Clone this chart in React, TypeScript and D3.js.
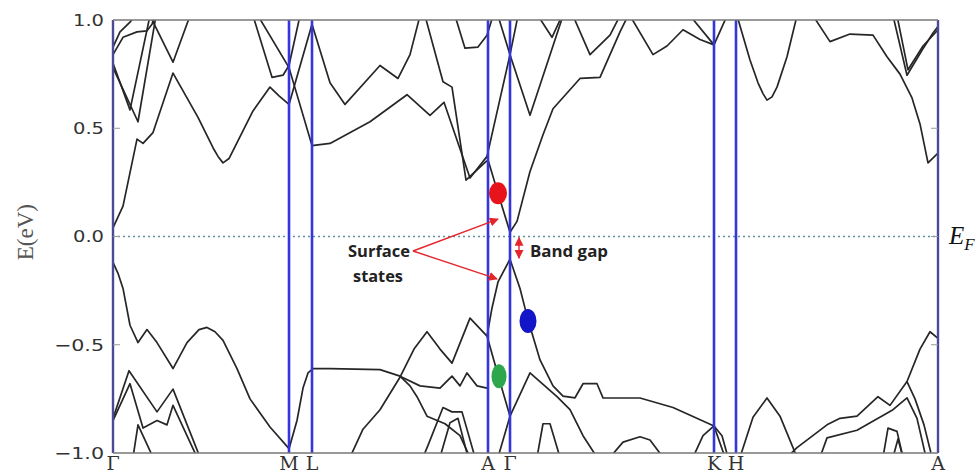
import React from 'react';
import * as d3 from 'd3';

// high-symmetry path
const kPoints = [0, 1.76, 1.99, 3.75, 3.97, 6.01, 6.23, 8.25];
const kLabels = ['Γ', 'M', 'L', 'A', 'Γ', 'K', 'H', 'A'];
const eTicks = [1.0, 0.5, 0.0, -0.5, -1.0];
const eTickLabels = ['1.0', '0.5', '0.0', '\u22120.5', '\u22121.0'];

// bands: [k, E(eV)]
const band01 = [[0,0.04],[0.04,0.08],[0.10,0.14],[0.24,0.45],[0.30,0.43],[0.40,0.48],[0.60,0.755],[0.85,0.55],[1.00,0.41],[1.05,0.37],[1.10,0.34],[1.16,0.36],[1.40,0.58],[1.57,0.69],[1.66,0.65],[1.76,0.61],[1.99,0.98],[2.17,0.71],[2.32,0.61],[2.67,0.79],[2.85,0.73],[2.97,0.84],[3.07,1.02]];
const band02 = [[1.45,1.02],[1.76,0.78],[1.99,0.42],[2.17,0.43],[2.57,0.53],[2.94,0.655],[3.17,0.56],[3.31,0.62],[3.57,0.27],[3.74,0.37],[3.85,0.20],[3.97,0.02],[4.04,0.07],[4.17,0.30],[4.30,0.47],[4.40,0.59],[4.67,0.73],[4.87,0.735],[5.07,0.945],[5.15,1.02]];
const band03 = [[1.40,1.02],[1.59,0.735],[1.70,0.745],[1.76,0.79],[1.87,1.02]];
const band04 = [[3.12,1.02],[3.30,0.715],[3.39,0.69],[3.53,0.26],[3.74,0.35]];
const band05 = [[3.74,0.37],[3.97,0.84],[4.05,1.02]];
const band06 = [[3.85,1.02],[3.97,0.84],[4.17,0.56],[4.50,1.02]];
const band07 = [[3.42,1.02],[3.52,0.87],[3.65,0.875],[3.74,0.93],[3.80,1.02]];
const band08 = [[0,0.80],[0.17,0.585],[0.37,1.02]];
const band09 = [[0,0.78],[0.25,0.53],[0.43,1.02]];
const band10 = [[0,0.84],[0.10,0.92],[0.24,0.945],[0.34,0.95],[0.39,0.98],[0.42,1.02]];
const band11 = [[0,0.875],[0.07,0.945],[0.17,0.99],[0.22,1.02]];
const band12 = [[0.37,1.02],[0.60,0.805],[0.77,1.02]];
const band13 = [[4.25,1.02],[4.39,0.92],[4.49,1.02]];
const band14 = [[4.60,1.02],[4.77,0.84],[4.97,0.93],[5.07,1.02]];
const band15 = [[5.17,1.02],[5.40,0.84],[5.54,0.88],[5.70,0.955],[5.87,0.91],[6.01,0.885],[6.14,1.02]];
const band16 = [[5.77,1.02],[6.01,0.885]];
const band17 = [[6.24,1.02],[6.37,0.815],[6.45,0.71],[6.50,0.66],[6.54,0.63],[6.59,0.645],[6.64,0.69],[6.74,0.83],[6.84,1.02]];
const band18 = [[7.00,1.02],[7.17,0.90],[7.37,0.935],[7.60,0.93],[7.74,0.83],[7.87,0.75],[7.99,0.64],[8.07,0.52],[8.15,0.34],[8.25,0.385]];
const band19 = [[7.80,1.02],[7.94,0.745],[8.09,0.86],[8.20,0.94],[8.25,0.97]];
const band20 = [[7.84,1.02],[7.95,0.77],[8.10,0.88],[8.25,0.955]];
const band21 = [[0,-0.12],[0.05,-0.17],[0.10,-0.24],[0.17,-0.41],[0.25,-0.49],[0.34,-0.43],[0.44,-0.49],[0.60,-0.61],[0.74,-0.49],[0.86,-0.43],[0.94,-0.42],[1.02,-0.44],[1.10,-0.48],[1.24,-0.61],[1.37,-0.75],[1.57,-0.88],[1.76,-0.98],[1.84,-0.85],[1.90,-0.70],[1.95,-0.63],[2.00,-0.61],[2.17,-0.61],[2.67,-0.615],[2.87,-0.645],[2.97,-0.69],[3.04,-0.74],[3.14,-0.83],[3.32,-0.865],[3.47,-0.92],[3.57,-1.02]];
const band22 = [[2.37,-1.02],[2.50,-0.89],[2.67,-0.80],[2.87,-0.65],[3.01,-0.52],[3.14,-0.44],[3.27,-0.52],[3.39,-0.585],[3.57,-0.377],[3.74,-0.46],[3.85,-0.64],[3.97,-0.83],[4.17,-0.63],[4.44,-0.74],[4.57,-0.80],[4.70,-0.92],[4.84,-1.02]];
const band23 = [[3.74,-0.46],[3.79,-0.33],[3.85,-0.21],[3.97,-0.105],[4.07,-0.24],[4.15,-0.385],[4.27,-0.57],[4.40,-0.69],[4.50,-0.737],[4.62,-0.745],[4.70,-0.68],[4.84,-0.68],[4.90,-0.745],[5.27,-0.746],[5.60,-0.79],[6.01,-0.875],[6.12,-1.02]];
const band24 = [[3.85,-1.02],[3.97,-0.83]];
const band25 = [[4.24,-1.02],[4.30,-0.865],[4.37,-0.865],[4.47,-1.02]];
const band26 = [[4.97,-1.02],[5.10,-0.95],[5.27,-0.925],[5.37,-0.94],[5.50,-1.02]];
const band27 = [[5.80,-1.02],[5.90,-0.92],[6.01,-0.875],[6.09,-0.92],[6.15,-1.02]];
const band28 = [[6.27,-1.02],[6.40,-0.835],[6.54,-0.746],[6.67,-0.83],[6.84,-1.02]];
const band29 = [[6.74,-1.02],[6.84,-0.975],[7.14,-0.87],[7.27,-0.84],[7.44,-0.83],[7.65,-0.74],[7.77,-0.78],[7.94,-0.67],[8.07,-0.52],[8.17,-0.44],[8.25,-0.47]];
const band30 = [[7.07,-1.02],[7.14,-0.93],[7.44,-0.895],[7.80,-0.80],[7.94,-0.745],[8.04,-0.84],[8.13,-1.02]];
const band31 = [[7.94,-0.67],[8.02,-0.75],[8.11,-0.87],[8.19,-1.02]];
const band32 = [[7.70,-1.02],[7.75,-0.885],[7.84,-0.90],[7.90,-1.02]];
const band33 = [[7.80,-1.02],[7.85,-0.935],[7.90,-1.02]];
const band34 = [[0,-0.84],[0.16,-0.62],[0.44,-0.81],[0.60,-0.705],[0.87,-1.02]];
const band35 = [[0,-0.85],[0.17,-0.68],[0.30,-0.885],[0.44,-0.85],[0.54,-0.87],[0.60,-0.78],[0.84,-1.02]];
const band36 = [[0.20,-1.02],[0.25,-0.87],[0.40,-1.02]];
const band37 = [[3.10,-1.02],[3.15,-0.965],[3.30,-0.79],[3.39,-0.81],[3.49,-0.81],[3.62,-1.02]];
const band38 = [[3.27,-1.02],[3.37,-0.86],[3.45,-0.84],[3.55,-1.02]];
const band39 = [[2.87,-0.645],[3.07,-0.69],[3.27,-0.70],[3.39,-0.645],[3.47,-0.69],[3.54,-0.63],[3.64,-0.69],[3.74,-0.70]];

const bands = [band01, band02, band03, band04, band05, band06, band07, band08, band09, band10,
  band11, band12, band13, band14, band15, band16, band17, band18, band19, band20,
  band21, band22, band23, band24, band25, band26, band27, band28, band29, band30,
  band31, band32, band33, band34, band35, band36, band37, band38, band39];

// marked states [k, E]
const dotRed = [3.85, 0.20];
const dotBlue = [4.15, -0.39];
const dotGreen = [3.86, -0.645];

// annotation anchors [k, E]
const arrowStart = [3.00, -0.067];
const arrowTipUpper = [3.85, 0.08];
const arrowTipLower = [3.84, -0.196];
const gapArrow = [4.06, -0.005, -0.10];

export default function App() {
  const W = 978, H = 476;
  const x = d3.scaleLinear().domain([0, 8.25]).range([113, 938]);
  const y = d3.scaleLinear().domain([-1, 1]).range([453, 20]);
  const line = d3.line<number[]>().x(d => x(d[0])).y(d => y(d[1])).curve(d3.curveLinear);
  const red = '#e3262a';
  return (
    <svg width={W} height={H} style={{ position: 'absolute', left: 0, top: 0, background: '#fff' }}>
      <defs>
        <clipPath id="plotclip">
          <rect x={x(0)} y={y(1)} width={x(8.25) - x(0)} height={y(-1) - y(1)} />
        </clipPath>
        <marker id="ah" viewBox="0 0 10 10" refX="9" refY="5" markerWidth="9" markerHeight="9" markerUnits="userSpaceOnUse" orient="auto-start-reverse">
          <path d="M0,0 L10,5 L0,10 z" fill={red} />
        </marker>
      </defs>
      <rect x={0} y={0} width={W} height={H} fill="#fff" />
      {/* zero line */}
      <line x1={x(0)} x2={x(8.25)} y1={y(0)} y2={y(0)} stroke="#5f8f98" strokeWidth={1.3} strokeDasharray="2 3" />
      {/* bands */}
      <g clipPath="url(#plotclip)">
        {bands.map((b, i) => (
          <path key={i} d={line(b) || ''} fill="none" stroke="#262626" strokeWidth={1.7} strokeLinejoin="round" />
        ))}
      </g>
      {/* high symmetry lines */}
      {kPoints.slice(1, -1).map((k, i) => (
        <line key={i} x1={x(k)} x2={x(k)} y1={y(1)} y2={y(-1)} stroke="#3535dc" strokeWidth={2.6} />
      ))}
      {/* frame */}
      <line x1={x(0)} x2={x(8.25)} y1={y(1)} y2={y(1)} stroke="#777" strokeWidth={1.5} />
      <line x1={x(0)} x2={x(8.25)} y1={y(-1)} y2={y(-1)} stroke="#777" strokeWidth={1.5} />
      <line x1={x(0)} x2={x(0)} y1={y(1)} y2={y(-1)} stroke="#4a4a96" strokeWidth={2.4} />
      <line x1={x(8.25)} x2={x(8.25)} y1={y(1)} y2={y(-1)} stroke="#4a4a96" strokeWidth={2.4} />
      {/* y ticks */}
      {eTicks.map((e, i) => (
        <g key={i}>
          <line x1={x(0)} x2={x(0) + 7} y1={y(e)} y2={y(e)} stroke="#999" strokeWidth={1} />
          <line x1={x(8.25) - 7} x2={x(8.25)} y1={y(e)} y2={y(e)} stroke="#999" strokeWidth={1} />
          <text x={x(0) - 9} y={y(e)} dy="0.36em" textAnchor="end" fontFamily="DejaVu Sans" fontSize={16}
            fill="#333" textLength={eTickLabels[i].length > 3 ? 50 : 31} lengthAdjust="spacingAndGlyphs">{eTickLabels[i]}</text>
        </g>
      ))}
      {/* x labels */}
      {kPoints.map((k, i) => (
        <text key={i} x={x(k)} y={470} textAnchor="middle" fontFamily="DejaVu Serif" fontSize={19} fill="#333">{kLabels[i]}</text>
      ))}
      {/* y label */}
      <text transform={`translate(33,${y(0.02)}) rotate(-90)`} textAnchor="middle" fontFamily="Liberation Serif" fontSize={23} fill="#555">E(eV)</text>
      {/* E_F */}
      <text x={949} y={y(-0.035)} fontFamily="Liberation Serif" fontStyle="italic" fontSize={25} fill="#111">E<tspan fontSize={17} dy={6}>F</tspan></text>
      {/* annotations */}
      <line x1={x(arrowStart[0])} y1={y(arrowStart[1])} x2={x(arrowTipUpper[0])} y2={y(arrowTipUpper[1])} stroke={red} strokeWidth={1.4} markerEnd="url(#ah)" />
      <line x1={x(arrowStart[0])} y1={y(arrowStart[1])} x2={x(arrowTipLower[0])} y2={y(arrowTipLower[1])} stroke={red} strokeWidth={1.4} markerEnd="url(#ah)" />
      <line x1={x(gapArrow[0])} y1={y(gapArrow[1])} x2={x(gapArrow[0])} y2={y(gapArrow[2])} stroke={red} strokeWidth={1.4} markerStart="url(#ah)" markerEnd="url(#ah)" />
      <text x={x(2.35)} y={y(-0.095)} fontFamily="Open Sans" fontWeight="bold" fontSize={16} fill="#222" textLength={62} lengthAdjust="spacingAndGlyphs">Surface</text>
      <text x={x(2.40)} y={y(-0.21)} fontFamily="Open Sans" fontWeight="bold" fontSize={16} fill="#222" textLength={50} lengthAdjust="spacingAndGlyphs">states</text>
      <text x={x(4.17)} y={y(-0.095)} fontFamily="Open Sans" fontWeight="bold" fontSize={16} fill="#222" textLength={78} lengthAdjust="spacingAndGlyphs">Band gap</text>
      {/* dots */}
      <ellipse cx={x(dotRed[0])} cy={y(dotRed[1])} rx={9} ry={11} fill="#e8141c" />
      <ellipse cx={x(dotBlue[0])} cy={y(dotBlue[1])} rx={8.5} ry={12} fill="#1414c8" />
      <ellipse cx={x(dotGreen[0])} cy={y(dotGreen[1])} rx={7.5} ry={12} fill="#2ea64c" />
    </svg>
  );
}
